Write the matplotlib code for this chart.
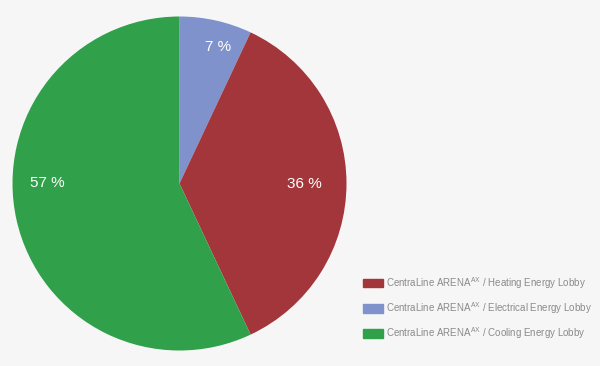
import matplotlib
matplotlib.use("Agg")
import matplotlib.pyplot as plt
import numpy as np

plt.rcParams['font.family'] = ['Liberation Sans', 'DejaVu Sans']
plt.rcParams['mathtext.fontset'] = 'custom'
plt.rcParams['mathtext.rm'] = 'Liberation Sans'

labels = ["CentraLine ARENA$^{\\mathregular{AX}}$ / Heating Energy Lobby",
          "CentraLine ARENA$^{\\mathregular{AX}}$ / Electrical Energy Lobby",
          "CentraLine ARENA$^{\\mathregular{AX}}$ / Cooling Energy Lobby"]
values = [36, 7, 57]
colors = ["#A3363B", "#7F92CB", "#31A04A"]
# pie drawing order (clockwise from top): Electrical, Heating, Cooling
order = [1, 0, 2]
label_dist = [0.85, 0.75, 0.79]
label_shift = [-3, 0, -12.6]  # degrees added to wedge mid-angle

bg = "#F6F6F6"
fig = plt.figure(figsize=(6, 3.66), dpi=100, facecolor=bg)
W, H = 600, 366
cx, cy, r = 179.5, 183.5, 167
ax = fig.add_axes([(cx - r) / W, 1 - (cy + r) / H, 2 * r / W, 2 * r / H])
ax.set_facecolor(bg)

wedges, texts = ax.pie([values[i] for i in order], colors=[colors[i] for i in order],
                       startangle=90, counterclock=False, radius=1,
                       wedgeprops=dict(linewidth=0))
for w, d, s, i in zip(wedges, label_dist, label_shift, order):
    ang = np.deg2rad((w.theta1 + w.theta2) / 2 + s)
    ax.text(d * np.cos(ang), d * np.sin(ang), f"{values[i]} %", color="white",
            fontsize=11, ha="center", va="center")
ax.set_xlim(-1, 1)
ax.set_ylim(-1, 1)
ax.set_aspect('equal')
ax.axis('off')

handles = [plt.Rectangle((0, 0), 1, 1, color=c) for c in colors]
leg = fig.legend(handles, labels, loc='upper left',
                 bbox_to_anchor=(363 / W, 1 - 275 / H), frameon=False,
                 fontsize=7, labelcolor="#8A8A8A", handlelength=2.1,
                 handleheight=0.9, handletextpad=0.3, labelspacing=0.95,
                 borderpad=0, borderaxespad=0)

fig.savefig("out.png", dpi=100, facecolor=bg)
